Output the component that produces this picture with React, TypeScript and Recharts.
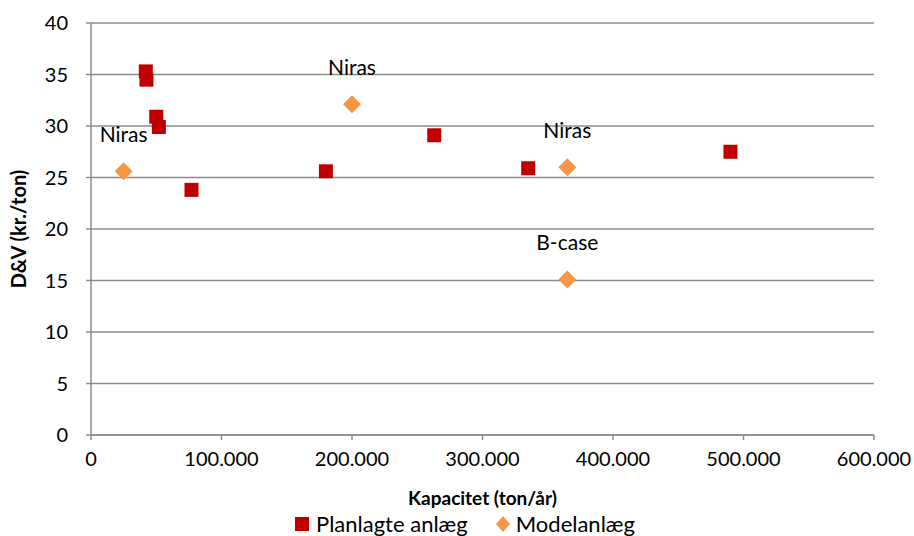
import { ScatterChart, Scatter, XAxis, YAxis, CartesianGrid, Legend } from "recharts";

const plannedX = [42000, 42500, 50000, 52000, 77000, 180000, 263000, 335000, 490000];
const plannedY = [35.3, 34.5, 30.9, 29.9, 23.8, 25.6, 29.1, 25.9, 27.5];

const modelX = [25000, 200000, 365000, 365000];
const modelY = [25.6, 32.1, 26.0, 15.1];
const modelLabels = ["Niras", "Niras", "Niras", "B-case"];

const xTicks = [0, 100000, 200000, 300000, 400000, 500000, 600000];
const yTicks = [0, 5, 10, 15, 20, 25, 30, 35, 40];

const RED = "#C00000";
const ORANGE = "#F79646";
const GRID = "#8c8c8c";
const FONT = "Lato, 'Open Sans', sans-serif";

const planned = plannedX.map((x, i) => ({ x, y: plannedY[i] }));
const model = modelX.map((x, i) => ({ x, y: modelY[i], label: modelLabels[i] }));

const fmt = (v: number) => String(v).replace(/\B(?=(\d{3})+(?!\d))/g, ".");

const Square = (p: any) => (
  <rect x={p.cx - 7} y={p.cy - 7} width={14} height={14} fill={RED} />
);

const Diamond = (p: any) => (
  <g>
    <path d={`M${p.cx},${p.cy - 9} L${p.cx + 9},${p.cy} L${p.cx},${p.cy + 9} L${p.cx - 9},${p.cy} Z`} fill={ORANGE} />
    <text x={p.cx} y={p.cy - 29} textAnchor="middle" fontSize={21} fontFamily={FONT} fill="#000">
      {p.payload.label}
    </text>
  </g>
);

const LegendBox = () => (
  <div style={{ display: "flex", justifyContent: "center", alignItems: "center", fontFamily: FONT, fontSize: 22, lineHeight: "25px", color: "#000", paddingLeft: 56 }}>
    <svg width={14} height={14} style={{ marginRight: 7 }}>
      <rect width={14} height={14} fill={RED} />
    </svg>
    <span style={{ marginRight: 28 }}>Planlagte anlæg</span>
    <svg width={14} height={16} style={{ marginRight: 6 }}>
      <path d="M7,0 L14,8 L7,16 L0,8 Z" fill={ORANGE} />
    </svg>
    <span>Modelanlæg</span>
  </div>
);

const YTitle = ({ viewBox }: any) => {
  const x = viewBox.x + 18;
  const y = viewBox.y + viewBox.height / 2;
  return (
    <text x={x} y={y} transform={`rotate(-90, ${x}, ${y})`} textAnchor="middle" dominantBaseline="central" fontSize={20} fontWeight="bold" fontFamily={FONT} fill="#000">
      D&amp;V (kr./ton)
    </text>
  );
};

export default function App() {
  return (
    <div style={{ position: "absolute", left: 0, top: 0, background: "#fff" }}>
      <ScatterChart width={914} height={536} margin={{ top: 23, right: 40, bottom: 0, left: 0 }}>
        <CartesianGrid vertical={false} stroke={GRID} strokeWidth={1.5} />
        <XAxis
          type="number"
          dataKey="x"
          domain={[0, 600000]}
          ticks={xTicks}
          tickFormatter={fmt}
          height={76}
          stroke={GRID}
          strokeWidth={1.5}
          tickSize={5}
          tickMargin={12}
          tick={{ fill: "#000", fontSize: 20, fontFamily: FONT }}
          label={{ value: "Kapacitet (ton/år)", position: "insideBottom", offset: 6, fontSize: 19, fontWeight: "bold", fontFamily: FONT, fill: "#000" }}
        />
        <YAxis
          type="number"
          dataKey="y"
          domain={[0, 40]}
          ticks={yTicks}
          width={91}
          stroke={GRID}
          strokeWidth={1.5}
          tickSize={5}
          tickMargin={18}
          tick={{ fill: "#000", fontSize: 20, fontFamily: FONT }}
          label={{ content: YTitle }}
        />
        <Legend verticalAlign="bottom" height={25} content={LegendBox} />
        <Scatter name="Planlagte anlæg" data={planned} shape={Square} isAnimationActive={false} />
        <Scatter name="Modelanlæg" data={model} shape={Diamond} isAnimationActive={false} />
      </ScatterChart>
    </div>
  );
}
